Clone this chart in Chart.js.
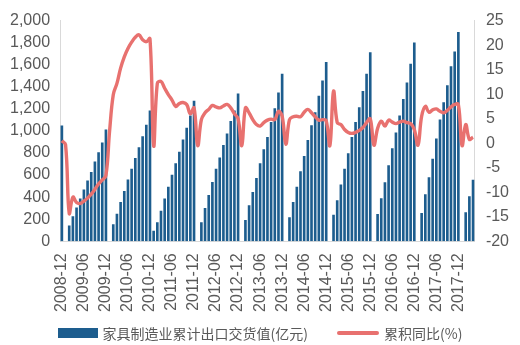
<!DOCTYPE html>
<html>
<head>
<meta charset="utf-8">
<script src="https://cdn.jsdelivr.net/npm/chart.js@4/dist/chart.umd.min.js"></script>
<style>
  html, body { margin: 0; padding: 0; background: #ffffff; }
  #wrap { width: 520px; height: 345px; position: relative; overflow: hidden; }
  #c { position: absolute; left: 0; top: 0; }
  #legend { position: absolute; left: 0; top: 323px; width: 520px; height: 20px;
    display: flex; justify-content: center; align-items: center; gap: 29px;
    font-family: 'Noto Sans CJK SC', sans-serif; font-size: 14px; color: #595959; }
  .item { display: flex; align-items: center; white-space: nowrap; }
  .sw { margin-right: 5px; }
</style>
</head>
<body>
<div id="wrap"><canvas id="c" width="520" height="345"></canvas><div id="legend"></div></div>
<script>
// Categories: monthly, 2008-12 through 2018-04
const startYear = 2008, startMonth = 12, endYear = 2018, endMonth = 4;
const categories = [];
for (let y = startYear, m = startMonth; y < endYear || (y === endYear && m <= endMonth); ) {
  categories.push(y + '-' + String(m).padStart(2, '0'));
  m++; if (m > 12) { m = 1; y++; }
}

// 家具制造业累计出口交货值 (亿元), by month (Jan..Dec)
const exports2008 = [1050]; // 2008-12 only
const exports2009 = [null, 143, 226, 306, 387, 470, 551, 628, 723, 806, 896, 1012];
const exports2010 = [null, 155, 250, 355, 455, 560, 658, 755, 853, 952, 1056, 1185];
const exports2011 = [95, 172, 277, 387, 494, 604, 708, 812, 922, 1030, 1140, 1274];
const exports2012 = [null, 172, 301, 420, 538, 658, 759, 872, 976, 1089, 1185, 1339];
const exports2013 = [null, 193, 327, 446, 574, 708, 833, 946, 1080, 1205, 1348, 1518];
const exports2014 = [null, 217, 357, 494, 634, 774, 917, 1051, 1170, 1318, 1458, 1625];
const exports2015 = [null, 241, 372, 515, 658, 797, 946, 1080, 1214, 1363, 1518, 1714];
const exports2016 = [null, 247, 390, 536, 688, 842, 985, 1140, 1289, 1438, 1610, 1801];
const exports2017 = [null, 256, 426, 580, 747, 931, 1104, 1259, 1414, 1586, 1720, 1896];
const exports2018 = [null, 262, 408, 558];

// 累积同比 (%), by month (Jan..Dec)
const yoy2008 = [0.5];
const yoy2009 = [-0.3, -14.3, -11.0, -12.1, -12.3, -11.8, -11.2, -10.4, -9.4, -8.3, -7.5, -6.6];
const yoy2010 = [2.5, 9.9, 12.2, 15.3, 17.6, 19.3, 20.6, 21.6, 22.1, 21.1, 20.7, 21.3];
const yoy2011 = [-0.5, 12.2, 12.6, 11.2, 9.9, 8.8, 7.5, 8.1, 8.3, 7.9, 6.0, 7.2];
const yoy2012 = [-0.5, 4.8, 6.2, 6.9, 7.7, 7.4, 7.2, 7.6, 7.9, 7.2, 6.0, 5.0];
const yoy2013 = [-0.5, 7.2, 6.2, 4.8, 3.8, 3.5, 4.2, 4.7, 4.9, 4.8, 6.5, 5.5];
const yoy2014 = [-0.2, 4.8, 5.4, 5.5, 5.4, 6.3, 6.9, 6.2, 5.4, 4.7, 4.8, 4.6];
const yoy2015 = [-0.5, 10.6, 4.2, 3.8, 2.8, 2.2, 2.0, 2.2, 2.6, 3.2, 4.2, 5.0];
const yoy2016 = [-0.4, 3.0, 4.5, 3.5, 4.7, 4.3, 4.0, 4.3, 4.5, 4.2, 4.0, 2.8];
const yoy2017 = [-0.4, 5.5, 7.5, 6.3, 6.8, 7.0, 6.5, 6.2, 6.7, 7.4, 7.9, 7.9];
const yoy2018 = [-0.5, 3.8, 0.8, 1.2];

const exportValues = [].concat(exports2008, exports2009, exports2010, exports2011, exports2012,
  exports2013, exports2014, exports2015, exports2016, exports2017, exports2018);
const yoyValues = [].concat(yoy2008, yoy2009, yoy2010, yoy2011, yoy2012,
  yoy2013, yoy2014, yoy2015, yoy2016, yoy2017, yoy2018);

// Tick labels shown on the x axis (every 6 months)
const xTickLabels = ['2008-12','2009-06','2009-12','2010-06','2010-12','2011-06','2011-12',
  '2012-06','2012-12','2013-06','2013-12','2014-06','2014-12','2015-06','2015-12',
  '2016-06','2016-12','2017-06','2017-12'];

const seriesNames = ['家具制造业累计出口交货值(亿元)', '累积同比(%)'];

const barColor = '#1d5d8e';
const lineColor = '#e8716f';
const textColor = '#595959';
const axisColor = '#d9d9d9';
const tickFont = { family: 'Liberation Sans, Arial, sans-serif', size: 16 };

const chart = new Chart(document.getElementById('c'), {
  data: {
    labels: categories,
    datasets: [
      {
        type: 'bar',
        label: seriesNames[0],
        data: exportValues,
        backgroundColor: barColor,
        borderWidth: 0,
        barPercentage: 0.72,
        categoryPercentage: 1.0,
        yAxisID: 'y',
        order: 1
      },
      {
        type: 'line',
        label: seriesNames[1],
        data: yoyValues,
        borderColor: lineColor,
        backgroundColor: lineColor,
        borderWidth: 3.4,
        pointRadius: 0,
        tension: 0.4,
        yAxisID: 'y1',
        order: 0
      }
    ]
  },
  options: {
    responsive: false,
    animation: false,
    devicePixelRatio: 1,
    layout: { padding: { left: 0, right: 0, top: 1, bottom: 21 } },
    plugins: {
      tooltip: { enabled: false },
      legend: { display: false }
    },
    scales: {
      x: {
        type: 'category',
        offset: true,
        grid: { display: false, drawTicks: false },
        border: { display: true, color: axisColor },
        ticks: {
          autoSkip: false,
          maxRotation: 90,
          minRotation: 90,
          padding: 12,
          color: textColor,
          font: tickFont,
          callback: function (value, index) {
            const lab = categories[index];
            return xTickLabels.includes(lab) ? lab : null;
          }
        }
      },
      y: {
        position: 'left',
        min: 0,
        max: 2000,
        grid: { display: false, drawTicks: false },
        border: { display: true, color: axisColor },
        ticks: {
          autoSkip: false,
          stepSize: 200,
          padding: 10,
          color: textColor,
          font: tickFont,
          callback: v => v.toLocaleString('en-US')
        }
      },
      y1: {
        position: 'right',
        min: -20,
        max: 25,
        grid: { display: false, drawTicks: false },
        border: { display: true, color: axisColor },
        ticks: {
          autoSkip: false,
          stepSize: 5,
          padding: 11,
          color: textColor,
          font: tickFont
        }
      }
    }
  }
});

// HTML legend built from the chart's datasets
const legendEl = document.getElementById('legend');
chart.data.datasets.forEach(ds => {
  const item = document.createElement('div');
  item.className = 'item';
  const sw = document.createElement('span');
  sw.className = 'sw';
  if (ds.type === 'bar') {
    sw.style.cssText = 'display:inline-block;width:40px;height:10px;background:' + ds.backgroundColor;
  } else {
    sw.style.cssText = 'display:inline-block;width:42px;height:4px;border-radius:2px;background:' + ds.borderColor;
  }
  const tx = document.createElement('span');
  tx.textContent = ds.label;
  item.appendChild(sw);
  item.appendChild(tx);
  legendEl.appendChild(item);
});
</script>
</body>
</html>
